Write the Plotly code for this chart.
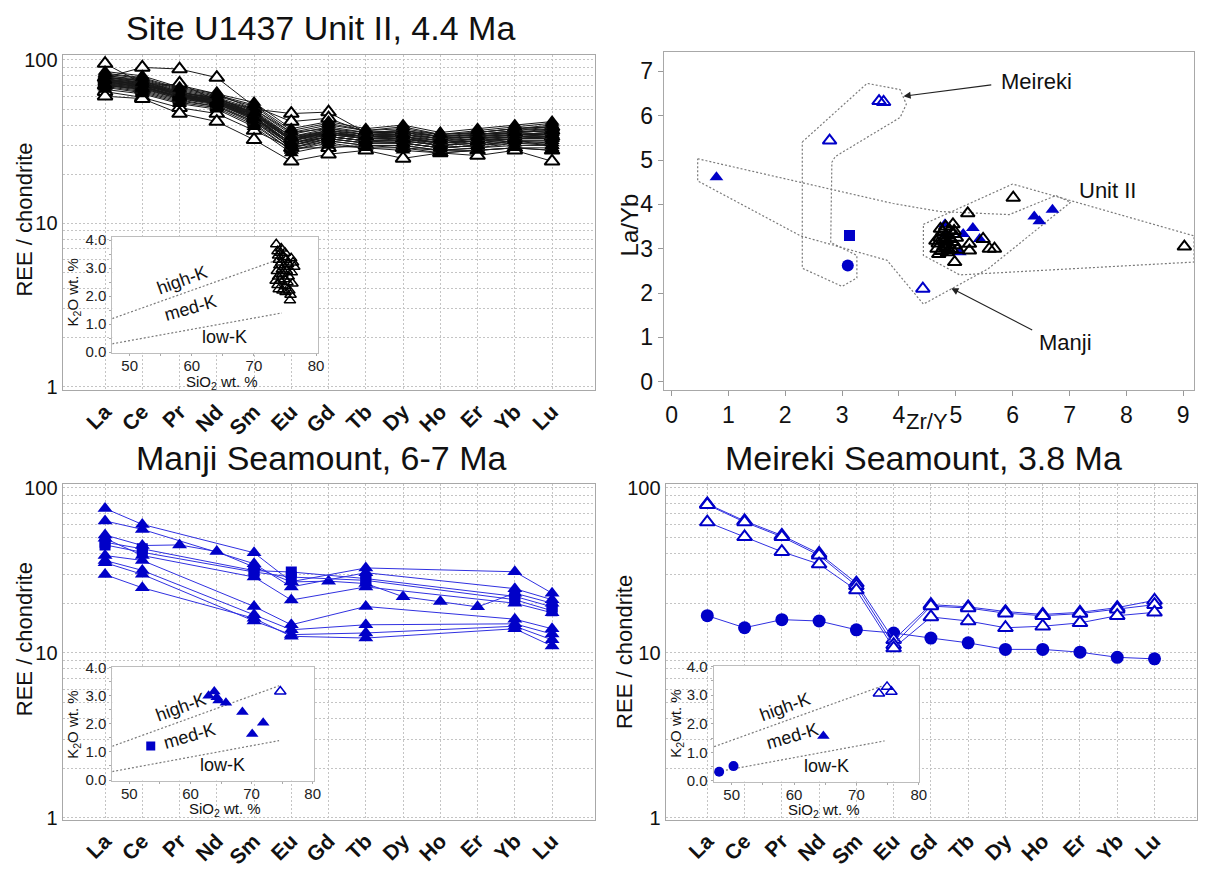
import plotly.graph_objects as go

W, H = 1206, 869
FONT = "Liberation Sans"
BLUE = "#0000c8"
BLUE_LINE = "#3030e0"
GRID = "#c4c4c4"
FRAME = "#a8a8a8"
POLY = "#7a7a7a"
DOTS = "2px,2px"

REE = ["La", "Ce", "Pr", "Nd", "Sm", "Eu", "Gd", "Tb", "Dy", "Ho", "Er", "Yb", "Lu"]

# ---- Site U1437 Unit II: chondrite-normalised REE (La ... Lu) ----
unit2_filled = [
    [85, 80, 68, 62, 55, 38, 42, 38, 40, 36, 38, 40, 42],
    [82, 77, 66, 60, 52, 36, 40, 37, 38, 35, 36, 38, 40],
    [80, 76, 65, 59, 50, 35, 39, 36, 37, 34, 35, 37, 39],
    [79, 74, 64, 58, 49, 34, 38, 35, 36, 33, 35, 36, 38],
    [78, 73, 63, 58, 48, 33, 37, 35, 35, 33, 34, 36, 37],
    [77, 72, 62, 57, 47, 33, 37, 34, 35, 32, 34, 35, 36],
    [76, 71, 62, 57, 46, 32, 36, 34, 34, 32, 33, 35, 35],
    [76, 70, 61, 56, 46, 32, 36, 33, 34, 31, 33, 34, 35],
    [75, 70, 61, 56, 45, 31, 35, 33, 33, 31, 32, 34, 34],
    [74, 69, 60, 55, 45, 31, 35, 33, 33, 31, 32, 33, 34],
    [74, 68, 60, 55, 44, 30, 34, 32, 32, 30, 31, 33, 33],
    [73, 68, 59, 54, 44, 30, 34, 32, 32, 30, 31, 33, 33],
    [72, 67, 58, 54, 43, 30, 33, 31, 31, 29, 30, 32, 32],
    [71, 66, 58, 53, 42, 29, 33, 31, 31, 29, 30, 31, 31],
    [70, 65, 57, 52, 42, 29, 32, 30, 30, 28, 29, 31, 30],
    [69, 64, 56, 52, 41, 28, 32, 30, 30, 28, 29, 30, 30],
    [68, 63, 55, 51, 40, 28, 31, 29, 29, 27, 28, 29, 29],
    [78, 75, 64, 57, 50, 36, 38, 36, 37, 34, 36, 38, 39],
    [81, 74, 63, 59, 47, 32, 36, 34, 34, 31, 33, 35, 36],
    [73, 70, 62, 56, 48, 34, 37, 35, 36, 34, 35, 37, 38],
    [77, 69, 60, 54, 43, 29, 33, 31, 31, 29, 30, 32, 31],
    [75, 72, 63, 58, 47, 33, 36, 34, 35, 33, 34, 35, 36],
    [72, 69, 59, 55, 46, 32, 35, 33, 33, 31, 32, 34, 33],
    [70, 67, 59, 54, 44, 31, 34, 32, 32, 30, 31, 32, 32],
    [79, 72, 62, 56, 45, 30, 34, 32, 31, 29, 30, 32, 30],
    [83, 78, 67, 61, 53, 37, 41, 37, 39, 35, 37, 39, 41],
    [74, 71, 61, 57, 46, 33, 35, 34, 34, 32, 33, 34, 35],
    [76, 73, 61, 55, 44, 31, 34, 32, 33, 30, 32, 33, 33],
    [66, 62, 54, 50, 39, 27, 30, 29, 28, 27, 28, 29, 28],
    [71, 68, 60, 56, 47, 34, 36, 34, 35, 33, 34, 36, 37],
]
unit2_open = [
    [95, 72, 70, 62, 50, 47, 48, 36, 36, 34, 35, 36, 37],
    [78, 90, 88, 78, 52, 42, 44, 36, 37, 35, 36, 38, 39],
    [64, 59, 51, 47, 37, 29, 29, 30, 29, 28, 28, 29, 28],
    [60, 58, 47, 42, 32.5, 24, 26.5, 28, 25, 27, 26, 28, 24],
    [70, 66, 72, 56, 44, 33, 36, 34, 33, 31, 32, 33, 34],
]

# ---- Manji Seamount (None = not analysed) ----
manji_tri = [
    [75, 60, None, None, 40.4, 27.0, None, 32.7, None, None, None, 31.0, 23.0],
    [63, 56, None, None, 34.7, 25.1, None, 30.6, None, None, None, 24.5, 21.0],
    [51.8, 44.7, 45.1, 41.1, 33.1, 26.9, 27.2, 26.3, 21.9, 20.5, 19.0, 23.0, 20.0],
    [49.4, 38.9, None, None, 28.8, 20.9, None, 25.1, None, None, None, 20.0, 17.5],
    [38.9, 36.3, None, None, 19.1, 14.8, None, 19.1, None, None, None, 16.0, 14.0],
    [36.3, 31.6, None, None, 17.0, 13.8, None, 14.8, None, None, None, 15.0, 13.0],
    [35.2, 29.9, None, None, 15.6, 12.9, None, 13.2, None, None, None, 14.5, 12.0],
    [29.8, 24.8, None, None, 16.2, 12.6, None, 12.3, None, None, None, 14.0, 11.0],
]
manji_sq = [
    [46.8, 42.7, None, None, 31.5, 30.9, None, 28.2, None, None, None, 22.0, 19.0],
    [45.1, 40.7, None, None, 30.9, 28.8, None, 27.5, None, None, None, 21.0, 18.0],
]

# ---- Meireki Seamount ----
meireki_open = [
    [80, 63, 51.5, 40, 26.5, 12.0, 19.6, 19.0, 17.8, 17.1, 17.6, 18.8, 20.8],
    [79, 62, 50.5, 39, 25.5, 11.2, 19.2, 18.7, 17.4, 16.8, 17.3, 18.4, 19.6],
    [62, 50.5, 41, 34.5, 24.0, 10.7, 16.5, 15.6, 14.2, 14.5, 15.2, 16.8, 17.6],
]
meireki_circle = [[16.8, 14.2, 15.9, 15.6, 13.8, 13.2, 12.3, 11.5, 10.5, 10.5, 10.1, 9.4, 9.2]]

# ---- Zr/Y vs La/Yb ----
unit2_zry = [4.95, 5.21, 6.01, 9.02, 5.48, 5.59, 5.68, 5.24, 4.98, 5.24,
             4.67, 4.69, 4.72, 4.75, 4.77, 4.79, 4.81, 4.83, 4.85, 4.87, 4.89, 4.90, 4.92,
             4.94, 4.96, 4.99, 5.01, 5.03, 4.73, 4.82, 4.70, 4.78, 4.88, 4.97, 4.65, 4.84]
unit2_layb = [3.55, 3.80, 4.15, 3.05, 3.22, 3.00, 3.00, 3.11, 2.70, 2.96,
              3.00, 3.12, 3.25, 2.95, 3.38, 3.05, 3.18, 3.30, 2.92, 3.10, 3.42, 3.22, 3.00,
              3.15, 3.33, 3.08, 3.25, 2.98, 3.45, 3.50, 2.88, 3.20, 2.97, 3.40, 3.18, 3.03]
manji_tri_zry = [0.79, 4.81, 4.83, 5.07, 5.13, 5.30, 5.42, 6.38, 6.47, 6.70]
manji_tri_layb = [4.61, 3.55, 3.33, 2.92, 3.33, 3.47, 3.22, 3.73, 3.62, 3.88]
manji_open_zry = [4.42]
manji_open_layb = [2.10]
manji_sq_zry = [3.13]
manji_sq_layb = [3.30]
meireki_open_zry = [2.78, 3.65, 3.73]
meireki_open_layb = [5.44, 6.33, 6.31]
meireki_circ_zry = [3.10]
meireki_circ_layb = [2.62]

# field outlines
meireki_field_x = [2.30, 3.44, 4.02, 4.13, 4.02, 2.88, 2.82, 2.80, 3.26, 3.26, 3.00, 2.30, 2.30]
meireki_field_y = [5.41, 6.73, 6.59, 6.26, 5.96, 5.08, 4.95, 3.14, 2.85, 2.34, 2.15, 2.56, 5.41]
manji_field_x = [0.46, 3.90, 4.72, 5.94, 6.76, 7.02, 5.57, 4.43, 3.79, 2.27, 0.46, 0.46]
manji_field_y = [5.03, 4.02, 3.84, 3.77, 4.20, 4.05, 2.55, 1.75, 2.74, 3.29, 4.53, 5.03]
unit2_field_x = [4.43, 6.00, 9.19, 9.19, 5.07, 4.43, 4.43]
unit2_field_y = [3.55, 4.46, 3.29, 2.70, 2.41, 2.85, 3.55]

# ---- K2O vs SiO2 ----
unit2_sio2 = [73.6, 73.8, 73.9, 74.0, 74.1, 73.7, 73.9, 74.2, 73.8, 74.0, 74.3, 74.4,
              74.5, 74.6, 74.7, 74.8, 74.9, 75.0, 75.1, 75.2, 75.3, 75.4, 75.5, 75.6,
              75.7, 75.9, 76.0, 76.1, 76.2, 76.3, 76.5, 75.8, 74.4, 75.0, 74.6, 73.5]
unit2_k2o = [3.85, 3.60, 3.45, 3.30, 3.10, 2.90, 2.70, 2.55, 2.40, 2.25, 3.55, 3.20,
             2.95, 2.80, 3.40, 3.05, 2.60, 2.35, 2.15, 3.30, 2.90, 2.50, 3.15, 2.70,
             2.20, 2.05, 3.35, 2.85, 2.45, 3.20, 3.05, 1.85, 3.70, 3.55, 2.20, 2.55]
manji_tri_sio2 = [62.97, 63.9, 64.3, 64.6, 65.8, 68.5, 70.1, 71.9]
manji_tri_k2o = [3.00, 3.15, 2.94, 2.83, 2.75, 2.42, 1.64, 2.04]
manji_sq_sio2 = [53.5]
manji_sq_k2o = [1.21]
manji_open_sio2 = [74.7]
manji_open_k2o = [3.15]
meireki_circ_sio2 = [48.0, 50.3]
meireki_circ_k2o = [0.32, 0.52]
meireki_tri_sio2 = [64.7]
meireki_tri_k2o = [1.57]
meireki_open_sio2 = [73.6, 74.9, 75.6]
meireki_open_k2o = [3.06, 3.29, 3.12]

# series boundaries (high-K / med-K and med-K / low-K)
hk_sio2 = [47.2, 74.5]
hk_k2o = [1.20, 3.35]
lk_sio2 = [47.2, 74.5]
lk_k2o = [0.30, 1.40]

LOG_MAJOR = [1, 10, 100]
LOG_MINOR = [2, 3, 4, 5, 6, 7, 8, 9, 20, 30, 40, 50, 60, 70, 80, 90]


def fx(p):
    return p / W


def fy(p):
    return 1 - p / H


X = list(range(len(REE)))
fig = go.Figure()


def add_ree(rows, xa, ya, symbol, fill, edge, line_color, size, mlw=0.0, lw=1.0):
    for row in rows:
        fig.add_trace(go.Scatter(
            x=X, y=row, xaxis=xa, yaxis=ya, mode="lines+markers", connectgaps=True,
            line=dict(color=line_color, width=lw),
            marker=dict(symbol=symbol, size=size, color=fill, line=dict(color=edge, width=mlw)),
            hoverinfo="skip"))


def add_pts(xs, ys, xa, ya, symbol, size, color, mlw=0.0, edge=None):
    fig.add_trace(go.Scatter(
        x=xs, y=ys, xaxis=xa, yaxis=ya, mode="markers",
        marker=dict(symbol=symbol, size=size, color=color,
                    line=dict(color=edge or color, width=mlw)),
        hoverinfo="skip"))


def add_line(xs, ys, xa, ya):
    fig.add_trace(go.Scatter(
        x=xs, y=ys, xaxis=xa, yaxis=ya, mode="lines",
        line=dict(color=POLY, width=1.2, dash=DOTS), hoverinfo="skip"))


# REE patterns (outlined samples first, filled samples drawn over them)
add_ree(unit2_open, "x", "y", "triangle-up", "white", "black", "#1a1a1a", 13, mlw=2)
add_ree(unit2_filled, "x", "y", "triangle-up", "black", "black", "#1a1a1a", 13)
add_ree(manji_tri, "x3", "y3", "triangle-up", BLUE, BLUE, BLUE_LINE, 13)
add_ree(manji_sq, "x3", "y3", "square", BLUE, BLUE, BLUE_LINE, 11)
add_ree(meireki_circle, "x4", "y4", "circle", BLUE, BLUE, BLUE_LINE, 13)
add_ree(meireki_open, "x4", "y4", "triangle-up", "white", BLUE, BLUE_LINE, 13, mlw=2)

# Zr/Y vs La/Yb
add_line(meireki_field_x, meireki_field_y, "x2", "y2")
add_line(manji_field_x, manji_field_y, "x2", "y2")
add_line(unit2_field_x, unit2_field_y, "x2", "y2")
add_pts(manji_tri_zry, manji_tri_layb, "x2", "y2", "triangle-up", 12, BLUE)
add_pts(unit2_zry, unit2_layb, "x2", "y2", "triangle-up-open", 12, "black", mlw=2)
add_pts(manji_open_zry, manji_open_layb, "x2", "y2", "triangle-up-open", 12, BLUE, mlw=2)
add_pts(meireki_open_zry, meireki_open_layb, "x2", "y2", "triangle-up-open", 12, BLUE, mlw=2)
add_pts(manji_sq_zry, manji_sq_layb, "x2", "y2", "square", 11, BLUE)
add_pts(meireki_circ_zry, meireki_circ_layb, "x2", "y2", "circle", 12, BLUE)

# K2O vs SiO2 insets
for xa, ya in (("x5", "y5"), ("x6", "y6"), ("x7", "y7")):
    add_line(hk_sio2, hk_k2o, xa, ya)
    add_line(lk_sio2, lk_k2o, xa, ya)
add_pts(unit2_sio2, unit2_k2o, "x5", "y5", "triangle-up-open", 10, "black", mlw=1.5)
add_pts(manji_sq_sio2, manji_sq_k2o, "x6", "y6", "square", 9, BLUE)
add_pts(manji_tri_sio2, manji_tri_k2o, "x6", "y6", "triangle-up", 11, BLUE)
add_pts(manji_open_sio2, manji_open_k2o, "x6", "y6", "triangle-up-open", 10, BLUE, mlw=1.5)
add_pts(meireki_circ_sio2, meireki_circ_k2o, "x7", "y7", "circle", 10, BLUE)
add_pts(meireki_tri_sio2, meireki_tri_k2o, "x7", "y7", "triangle-up", 11, BLUE)
add_pts(meireki_open_sio2, meireki_open_k2o, "x7", "y7", "triangle-up-open", 10, BLUE, mlw=1.5)


def ree_xaxis(x0, x1, lo, anchor):
    return dict(domain=[fx(x0), fx(x1)], range=[lo, 13.14], anchor=anchor,
                tickmode="array", tickvals=X, ticktext=[f"<b>{r}</b>" for r in REE],
                tickangle=-45, tickfont=dict(family=FONT, size=21, color="#111"),
                showgrid=True, gridcolor=GRID, griddash=DOTS, gridwidth=1,
                showline=True, linecolor=FRAME, linewidth=1, mirror=True,
                zeroline=False, ticks="")


def ree_yaxis(y_top, y_bot, rng, anchor):
    return dict(domain=[fy(y_bot), fy(y_top)], type="log", range=rng, anchor=anchor,
                tickmode="array", tickvals=LOG_MAJOR, ticktext=[str(v) for v in LOG_MAJOR],
                tickfont=dict(family=FONT, size=20, color="#111"),
                showgrid=True, gridcolor=GRID, griddash=DOTS, gridwidth=1,
                minor=dict(tickmode="array", tickvals=LOG_MINOR, showgrid=True,
                           gridcolor=GRID, griddash=DOTS, gridwidth=1, ticks=""),
                showline=True, linecolor=FRAME, linewidth=1, mirror=True,
                zeroline=False, ticks="")


def inset_xaxis(x0, x1, rng, anchor):
    return dict(domain=[fx(x0), fx(x1)], range=rng, anchor=anchor,
                tickmode="array", tickvals=[50, 60, 70, 80],
                tickfont=dict(family=FONT, size=15, color="#222"),
                ticks="outside", ticklen=2, tickcolor="#aaaaaa", ticklabelstandoff=-3,
                minor=dict(tickvals=[55, 65, 75], ticks="outside", ticklen=2, tickcolor="#aaaaaa"),
                showgrid=False, showline=True, linecolor="#bdbdbd", mirror=True, zeroline=False)


def inset_yaxis(y_top, y_bot, rng, anchor):
    return dict(domain=[fy(y_bot), fy(y_top)], range=rng, anchor=anchor,
                tickmode="array", tickvals=[0, 1, 2, 3, 4],
                ticktext=["0.0", "1.0", "2.0", "3.0", "4.0"],
                tickfont=dict(family=FONT, size=15, color="#222"),
                ticks="outside", ticklen=2, tickcolor="#aaaaaa",
                minor=dict(tickvals=[0.5, 1.5, 2.5, 3.5], ticks="outside", ticklen=2,
                           tickcolor="#aaaaaa"),
                showgrid=False, showline=True, linecolor="#bdbdbd", mirror=True, zeroline=False)


layout_axes = dict(
    xaxis=ree_xaxis(63, 598.5, -1.14, "y"),
    yaxis=ree_yaxis(47.7, 391.7, [-0.02, 2.033], "x"),
    xaxis2=dict(domain=[fx(668), fx(1202)], range=[-0.14, 9.19], anchor="y2",
                tickmode="linear", tick0=0, dtick=1,
                tickfont=dict(family=FONT, size=23, color="#111"),
                ticks="outside", ticklen=5, tickcolor="#999999",
                showgrid=False, showline=True, linecolor=FRAME, mirror=True, zeroline=False),
    yaxis2=dict(domain=[fy(391), fy(45)], range=[-0.176, 7.44], anchor="x2",
                tickmode="linear", tick0=0, dtick=1,
                tickfont=dict(family=FONT, size=23, color="#111"),
                ticks="outside", ticklen=5, tickcolor="#999999",
                showgrid=False, showline=True, linecolor=FRAME, mirror=True, zeroline=False),
    xaxis3=ree_xaxis(63, 598.5, -1.14, "y3"),
    yaxis3=ree_yaxis(487.3, 831.7, [-0.01, 2.026], "x3"),
    xaxis4=ree_xaxis(670, 1205, -1.12, "y4"),
    yaxis4=ree_yaxis(487.3, 831.7, [-0.01, 2.026], "x4"),
    xaxis5=inset_xaxis(113, 320, [47.2, 80.3], "y5"),
    yaxis5=inset_yaxis(235, 353.3, [-0.02, 4.1], "x5"),
    xaxis6=inset_xaxis(113, 316, [47.2, 80.2], "y6"),
    yaxis6=inset_yaxis(675, 791.7, [-0.02, 4.03], "x6"),
    xaxis7=inset_xaxis(718.3, 925, [47.1, 80.0], "y7"),
    yaxis7=inset_yaxis(674, 792.7, [-0.02, 4.03], "x7"),
)

ann = []


def text_px(txt, x, y, size, angle=0):
    ann.append(dict(text=txt, x=fx(x), y=fy(y), xref="paper", yref="paper",
                    xanchor="center", yanchor="middle", showarrow=False, textangle=angle,
                    font=dict(family=FONT, size=size, color="#111")))


def text_data(txt, x, y, xa, ya, size, angle=0):
    ann.append(dict(text=txt, x=x, y=y, xref=xa, yref=ya, xanchor="center",
                    yanchor="middle", showarrow=False, textangle=angle,
                    font=dict(family=FONT, size=size, color="#111")))


# panel titles
text_px("Site U1437 Unit II, 4.4 Ma", 323, 20, 34)
text_px("Manji Seamount, 6-7 Ma", 323, 461, 34)
text_px("Meireki Seamount, 3.8 Ma", 930, 461, 34)

# axis titles
text_px("REE / chondrite", 25, 217, 22, -90)
text_px("REE / chondrite", 25, 647, 22, -90)
text_px("REE / chondrite", 628, 660, 22, -90)
text_px("La/Yb", 634, 222, 24, -90)
text_px("Zr/Y", 933, 424, 22)

# inset axis titles
for (kx, ky), (sx, sy) in (((74, 292), (223, 384)), ((74, 735), (226, 821)), ((681, 733), (830, 822))):
    text_px("K<sub>2</sub>O wt. %", kx, ky, 15, -90)
    text_px("SiO<sub>2</sub> wt. %", sx, sy, 15)

# series labels inside insets
for xa, ya in (("x5", "y5"), ("x6", "y6"), ("x7", "y7")):
    text_data("high-K", 58.5, 2.58, xa, ya, 18, -20)
    text_data("med-K", 59.8, 1.56, xa, ya, 18, -16)
    text_data("low-K", 65.2, 0.53, xa, ya, 18)

# field labels and arrows in Zr/Y vs La/Yb
text_data("Meireki", 6.42, 6.77, "x2", "y2", 22)
text_data("Unit II", 7.66, 4.31, "x2", "y2", 22)
text_data("Manji", 6.93, 0.88, "x2", "y2", 22)
for (hx, hy), (tx, ty) in (((4.08, 6.44), (5.65, 6.70)), ((4.92, 2.11), (6.37, 1.15))):
    ann.append(dict(text="", x=hx, y=hy, xref="x2", yref="y2", ax=tx, ay=ty,
                    axref="x2", ayref="y2", showarrow=True, arrowhead=2, arrowsize=1.3,
                    arrowwidth=1.1, arrowcolor="#222"))

fig.update_layout(
    width=W, height=H, margin=dict(l=0, r=0, t=0, b=0),
    paper_bgcolor="white", plot_bgcolor="white", showlegend=False,
    font=dict(family=FONT, color="#111"),
    annotations=ann, **layout_axes)

fig.write_html("out.html")
